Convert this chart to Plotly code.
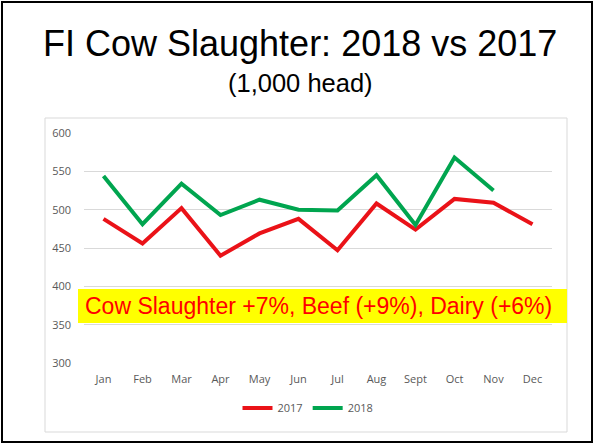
import plotly.graph_objects as go

months = ["Jan", "Feb", "Mar", "Apr", "May", "Jun", "Jul", "Aug", "Sept", "Oct", "Nov", "Dec"]
y2017 = [488, 456, 502, 440, 469, 488, 447, 508, 474, 514, 509, 481]
y2018 = [544, 481, 534, 493, 513, 500, 499, 545, 480, 568, 525, None]
y_ticks = [300, 350, 400, 450, 500, 550, 600]

W, H = 595, 445
L, R, T, B = 84, 552, 133, 363  # plot area in pixels


def px(x):
    return (x - L) / (R - L)


def py(y):
    return (B - y) / (B - T)


fig = go.Figure()
fig.add_trace(go.Scatter(x=months, y=y2017, mode="lines", name="2017",
                         line=dict(color="#EA1218", width=4)))
fig.add_trace(go.Scatter(x=months, y=y2018, mode="lines", name="2018",
                         line=dict(color="#00A54F", width=4)))

shapes = [
    # outer black frame
    dict(type="rect", xref="paper", yref="paper", x0=px(2), x1=px(592), y0=py(442), y1=py(2),
         line=dict(color="black", width=2), layer="below"),
    # chart panel border
    dict(type="rect", xref="paper", yref="paper", x0=px(45), x1=px(567), y0=py(432), y1=py(118),
         line=dict(color="#D9D9D9", width=1), layer="below"),
    # yellow banner
    dict(type="rect", xref="paper", yref="paper", x0=px(78), x1=px(567), y0=py(323), y1=py(289),
         fillcolor="#FFFF00", line=dict(width=0), layer="above"),
]

annotations = [
    dict(text="FI Cow Slaughter: 2018 vs 2017", xref="paper", yref="paper", x=px(300), y=py(43),
         showarrow=False, font=dict(family="Liberation Sans, Arial", size=36, color="black"),
         xanchor="center", yanchor="middle"),
    dict(text="(1,000 head)", xref="paper", yref="paper", x=px(300), y=py(83),
         showarrow=False, font=dict(family="Liberation Sans, Arial", size=25.5, color="black"),
         xanchor="center", yanchor="middle"),
    dict(text="Cow Slaughter +7%, Beef (+9%), Dairy (+6%)", xref="paper", yref="paper",
         x=px(318), y=py(306), showarrow=False,
         font=dict(family="Liberation Sans, Arial", size=23, color="#FF0000"),
         xanchor="center", yanchor="middle"),
]

tick_font = dict(family="Open Sans", size=11, color="#595959")

fig.update_layout(
    width=W, height=H,
    margin=dict(l=L, r=W - R, t=T, b=H - B, pad=0, autoexpand=False),
    paper_bgcolor="white", plot_bgcolor="white",
    shapes=shapes, annotations=annotations,
    showlegend=True,
    legend=dict(orientation="h", x=px(308), y=py(408), xanchor="center", yanchor="middle",
                font=dict(family="Open Sans", size=11, color="#595959"),
                itemwidth=30, bgcolor="rgba(0,0,0,0)"),
    xaxis=dict(range=[-0.5, 11.5], showgrid=False, showline=False, zeroline=False, ticks="",
               tickfont=tick_font, ticklabelstandoff=8, fixedrange=True),
    yaxis=dict(range=[300, 600], tickvals=y_ticks, showgrid=True, gridcolor="#D9D9D9",
               gridwidth=1, showline=False, zeroline=False, ticks="",
               tickfont=tick_font, ticklabelstandoff=12, fixedrange=True),
)

fig.write_html("out.html", config={"displayModeBar": False},
               post_script="document.body.style.margin='0';document.body.style.padding='0';")
